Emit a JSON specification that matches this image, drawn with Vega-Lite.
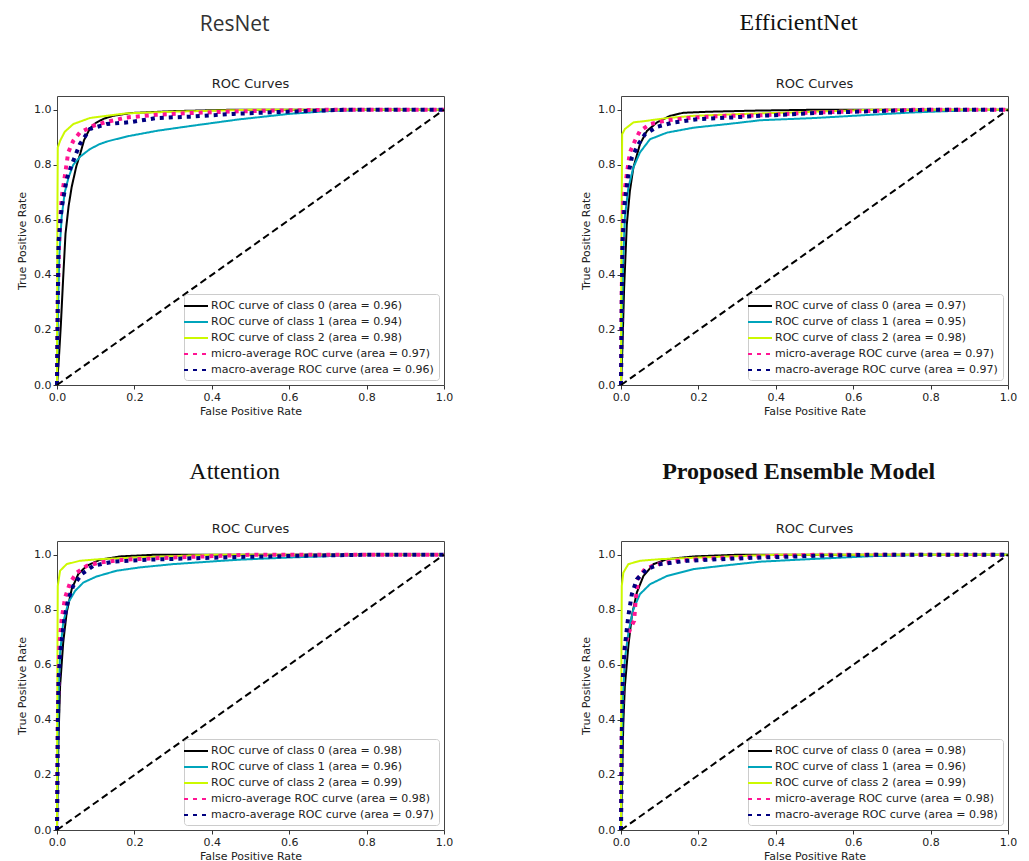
{
  "$schema": "https://vega.github.io/schema/vega-lite/v6.json",
  "padding": {"left": 16, "top": 10, "right": 5, "bottom": 5},
  "background": "white",
  "datasets": {
    "roc": [
      {"p":"R","s":"c0","x":0,"y":0},{"p":"R","s":"c0","x":0.005,"y":0.1},{"p":"R","s":"c0","x":0.01,"y":0.22},{"p":"R","s":"c0","x":0.016,"y":0.39},{"p":"R","s":"c0","x":0.022,"y":0.55},{"p":"R","s":"c0","x":0.03,"y":0.65},{"p":"R","s":"c0","x":0.038,"y":0.72},{"p":"R","s":"c0","x":0.05,"y":0.795},{"p":"R","s":"c0","x":0.06,"y":0.84},{"p":"R","s":"c0","x":0.07,"y":0.89},{"p":"R","s":"c0","x":0.085,"y":0.932},{"p":"R","s":"c0","x":0.1,"y":0.952},{"p":"R","s":"c0","x":0.12,"y":0.967},{"p":"R","s":"c0","x":0.145,"y":0.978},{"p":"R","s":"c0","x":0.19,"y":0.988},{"p":"R","s":"c0","x":0.3,"y":0.995},{"p":"R","s":"c0","x":0.45,"y":1.0},{"p":"R","s":"c0","x":1,"y":1},
      {"p":"R","s":"c1","x":0,"y":0},{"p":"R","s":"c1","x":0.002,"y":0.2},{"p":"R","s":"c1","x":0.004,"y":0.35},{"p":"R","s":"c1","x":0.006,"y":0.47},{"p":"R","s":"c1","x":0.012,"y":0.61},{"p":"R","s":"c1","x":0.02,"y":0.7},{"p":"R","s":"c1","x":0.03,"y":0.755},{"p":"R","s":"c1","x":0.042,"y":0.8},{"p":"R","s":"c1","x":0.06,"y":0.83},{"p":"R","s":"c1","x":0.085,"y":0.857},{"p":"R","s":"c1","x":0.11,"y":0.875},{"p":"R","s":"c1","x":0.13,"y":0.885},{"p":"R","s":"c1","x":0.18,"y":0.903},{"p":"R","s":"c1","x":0.26,"y":0.924},{"p":"R","s":"c1","x":0.35,"y":0.942},{"p":"R","s":"c1","x":0.47,"y":0.965},{"p":"R","s":"c1","x":0.6,"y":0.985},{"p":"R","s":"c1","x":0.7,"y":0.995},{"p":"R","s":"c1","x":0.8,"y":1.0},{"p":"R","s":"c1","x":1,"y":1},
      {"p":"R","s":"c2","x":0,"y":0},{"p":"R","s":"c2","x":0.001,"y":0.6},{"p":"R","s":"c2","x":0.002,"y":0.863},{"p":"R","s":"c2","x":0.008,"y":0.887},{"p":"R","s":"c2","x":0.02,"y":0.92},{"p":"R","s":"c2","x":0.042,"y":0.948},{"p":"R","s":"c2","x":0.085,"y":0.97},{"p":"R","s":"c2","x":0.128,"y":0.978},{"p":"R","s":"c2","x":0.18,"y":0.987},{"p":"R","s":"c2","x":0.3,"y":0.993},{"p":"R","s":"c2","x":0.5,"y":1.0},{"p":"R","s":"c2","x":1,"y":1},
      {"p":"R","s":"mi","x":0,"y":0},{"p":"R","s":"mi","x":0.002,"y":0.3},{"p":"R","s":"mi","x":0.005,"y":0.5},{"p":"R","s":"mi","x":0.008,"y":0.6},{"p":"R","s":"mi","x":0.012,"y":0.68},{"p":"R","s":"mi","x":0.021,"y":0.766},{"p":"R","s":"mi","x":0.029,"y":0.845},{"p":"R","s":"mi","x":0.042,"y":0.887},{"p":"R","s":"mi","x":0.059,"y":0.917},{"p":"R","s":"mi","x":0.094,"y":0.942},{"p":"R","s":"mi","x":0.128,"y":0.956},{"p":"R","s":"mi","x":0.18,"y":0.972},{"p":"R","s":"mi","x":0.258,"y":0.982},{"p":"R","s":"mi","x":0.344,"y":0.988},{"p":"R","s":"mi","x":0.455,"y":0.994},{"p":"R","s":"mi","x":0.6,"y":0.998},{"p":"R","s":"mi","x":0.7,"y":1.0},{"p":"R","s":"mi","x":1,"y":1},
      {"p":"R","s":"ma","x":0,"y":0},{"p":"R","s":"ma","x":0.002,"y":0.3},{"p":"R","s":"ma","x":0.004,"y":0.523},{"p":"R","s":"ma","x":0.012,"y":0.644},{"p":"R","s":"ma","x":0.025,"y":0.748},{"p":"R","s":"ma","x":0.038,"y":0.8},{"p":"R","s":"ma","x":0.059,"y":0.875},{"p":"R","s":"ma","x":0.085,"y":0.93},{"p":"R","s":"ma","x":0.128,"y":0.948},{"p":"R","s":"ma","x":0.189,"y":0.955},{"p":"R","s":"ma","x":0.258,"y":0.97},{"p":"R","s":"ma","x":0.344,"y":0.975},{"p":"R","s":"ma","x":0.455,"y":0.985},{"p":"R","s":"ma","x":0.54,"y":0.99},{"p":"R","s":"ma","x":0.65,"y":0.996},{"p":"R","s":"ma","x":0.75,"y":1.0},{"p":"R","s":"ma","x":1,"y":1},

      {"p":"E","s":"c0","x":0,"y":0},{"p":"E","s":"c0","x":0.004,"y":0.15},{"p":"E","s":"c0","x":0.008,"y":0.35},{"p":"E","s":"c0","x":0.015,"y":0.583},{"p":"E","s":"c0","x":0.023,"y":0.705},{"p":"E","s":"c0","x":0.032,"y":0.79},{"p":"E","s":"c0","x":0.049,"y":0.875},{"p":"E","s":"c0","x":0.067,"y":0.923},{"p":"E","s":"c0","x":0.093,"y":0.954},{"p":"E","s":"c0","x":0.127,"y":0.978},{"p":"E","s":"c0","x":0.161,"y":0.989},{"p":"E","s":"c0","x":0.23,"y":0.993},{"p":"E","s":"c0","x":0.35,"y":0.997},{"p":"E","s":"c0","x":0.5,"y":1.0},{"p":"E","s":"c0","x":1,"y":1},
      {"p":"E","s":"c1","x":0,"y":0},{"p":"E","s":"c1","x":0.002,"y":0.2},{"p":"E","s":"c1","x":0.004,"y":0.35},{"p":"E","s":"c1","x":0.006,"y":0.46},{"p":"E","s":"c1","x":0.01,"y":0.61},{"p":"E","s":"c1","x":0.019,"y":0.717},{"p":"E","s":"c1","x":0.032,"y":0.79},{"p":"E","s":"c1","x":0.049,"y":0.845},{"p":"E","s":"c1","x":0.075,"y":0.893},{"p":"E","s":"c1","x":0.119,"y":0.917},{"p":"E","s":"c1","x":0.188,"y":0.935},{"p":"E","s":"c1","x":0.275,"y":0.948},{"p":"E","s":"c1","x":0.361,"y":0.962},{"p":"E","s":"c1","x":0.5,"y":0.97},{"p":"E","s":"c1","x":0.6,"y":0.978},{"p":"E","s":"c1","x":0.75,"y":0.99},{"p":"E","s":"c1","x":0.9,"y":0.998},{"p":"E","s":"c1","x":1,"y":1},
      {"p":"E","s":"c2","x":0,"y":0},{"p":"E","s":"c2","x":0.001,"y":0.5},{"p":"E","s":"c2","x":0.003,"y":0.911},{"p":"E","s":"c2","x":0.01,"y":0.93},{"p":"E","s":"c2","x":0.032,"y":0.954},{"p":"E","s":"c2","x":0.067,"y":0.96},{"p":"E","s":"c2","x":0.12,"y":0.97},{"p":"E","s":"c2","x":0.188,"y":0.978},{"p":"E","s":"c2","x":0.3,"y":0.984},{"p":"E","s":"c2","x":0.5,"y":0.993},{"p":"E","s":"c2","x":0.65,"y":1.0},{"p":"E","s":"c2","x":1,"y":1},
      {"p":"E","s":"mi","x":0,"y":0},{"p":"E","s":"mi","x":0.002,"y":0.35},{"p":"E","s":"mi","x":0.006,"y":0.668},{"p":"E","s":"mi","x":0.015,"y":0.766},{"p":"E","s":"mi","x":0.023,"y":0.845},{"p":"E","s":"mi","x":0.036,"y":0.887},{"p":"E","s":"mi","x":0.049,"y":0.923},{"p":"E","s":"mi","x":0.075,"y":0.948},{"p":"E","s":"mi","x":0.119,"y":0.962},{"p":"E","s":"mi","x":0.188,"y":0.972},{"p":"E","s":"mi","x":0.275,"y":0.978},{"p":"E","s":"mi","x":0.36,"y":0.98},{"p":"E","s":"mi","x":0.5,"y":0.99},{"p":"E","s":"mi","x":0.75,"y":1.0},{"p":"E","s":"mi","x":1,"y":1},
      {"p":"E","s":"ma","x":0,"y":0},{"p":"E","s":"ma","x":0.002,"y":0.3},{"p":"E","s":"ma","x":0.004,"y":0.523},{"p":"E","s":"ma","x":0.01,"y":0.668},{"p":"E","s":"ma","x":0.019,"y":0.766},{"p":"E","s":"ma","x":0.028,"y":0.826},{"p":"E","s":"ma","x":0.045,"y":0.875},{"p":"E","s":"ma","x":0.062,"y":0.911},{"p":"E","s":"ma","x":0.093,"y":0.938},{"p":"E","s":"ma","x":0.136,"y":0.954},{"p":"E","s":"ma","x":0.2,"y":0.966},{"p":"E","s":"ma","x":0.287,"y":0.972},{"p":"E","s":"ma","x":0.361,"y":0.978},{"p":"E","s":"ma","x":0.5,"y":0.988},{"p":"E","s":"ma","x":0.65,"y":0.995},{"p":"E","s":"ma","x":0.8,"y":1.0},{"p":"E","s":"ma","x":1,"y":1},

      {"p":"A","s":"c0","x":0,"y":0},{"p":"A","s":"c0","x":0.002,"y":0.2},{"p":"A","s":"c0","x":0.004,"y":0.34},{"p":"A","s":"c0","x":0.008,"y":0.523},{"p":"A","s":"c0","x":0.016,"y":0.68},{"p":"A","s":"c0","x":0.025,"y":0.79},{"p":"A","s":"c0","x":0.038,"y":0.875},{"p":"A","s":"c0","x":0.055,"y":0.93},{"p":"A","s":"c0","x":0.077,"y":0.96},{"p":"A","s":"c0","x":0.111,"y":0.982},{"p":"A","s":"c0","x":0.163,"y":0.994},{"p":"A","s":"c0","x":0.25,"y":1.0},{"p":"A","s":"c0","x":1,"y":1},
      {"p":"A","s":"c1","x":0,"y":0},{"p":"A","s":"c1","x":0.002,"y":0.3},{"p":"A","s":"c1","x":0.004,"y":0.486},{"p":"A","s":"c1","x":0.008,"y":0.644},{"p":"A","s":"c1","x":0.016,"y":0.753},{"p":"A","s":"c1","x":0.029,"y":0.826},{"p":"A","s":"c1","x":0.047,"y":0.869},{"p":"A","s":"c1","x":0.068,"y":0.899},{"p":"A","s":"c1","x":0.102,"y":0.921},{"p":"A","s":"c1","x":0.154,"y":0.942},{"p":"A","s":"c1","x":0.214,"y":0.954},{"p":"A","s":"c1","x":0.3,"y":0.966},{"p":"A","s":"c1","x":0.404,"y":0.976},{"p":"A","s":"c1","x":0.47,"y":0.982},{"p":"A","s":"c1","x":0.6,"y":0.99},{"p":"A","s":"c1","x":0.8,"y":1.0},{"p":"A","s":"c1","x":1,"y":1},
      {"p":"A","s":"c2","x":0,"y":0},{"p":"A","s":"c2","x":0.001,"y":0.6},{"p":"A","s":"c2","x":0.002,"y":0.887},{"p":"A","s":"c2","x":0.008,"y":0.942},{"p":"A","s":"c2","x":0.025,"y":0.966},{"p":"A","s":"c2","x":0.059,"y":0.978},{"p":"A","s":"c2","x":0.111,"y":0.984},{"p":"A","s":"c2","x":0.2,"y":0.99},{"p":"A","s":"c2","x":0.4,"y":1.0},{"p":"A","s":"c2","x":1,"y":1},
      {"p":"A","s":"mi","x":0,"y":0},{"p":"A","s":"mi","x":0.002,"y":0.4},{"p":"A","s":"mi","x":0.006,"y":0.668},{"p":"A","s":"mi","x":0.012,"y":0.766},{"p":"A","s":"mi","x":0.021,"y":0.845},{"p":"A","s":"mi","x":0.034,"y":0.899},{"p":"A","s":"mi","x":0.051,"y":0.935},{"p":"A","s":"mi","x":0.077,"y":0.96},{"p":"A","s":"mi","x":0.111,"y":0.972},{"p":"A","s":"mi","x":0.171,"y":0.982},{"p":"A","s":"mi","x":0.3,"y":0.99},{"p":"A","s":"mi","x":0.5,"y":1.0},{"p":"A","s":"mi","x":1,"y":1},
      {"p":"A","s":"ma","x":0,"y":0},{"p":"A","s":"ma","x":0.002,"y":0.35},{"p":"A","s":"ma","x":0.004,"y":0.547},{"p":"A","s":"ma","x":0.01,"y":0.668},{"p":"A","s":"ma","x":0.019,"y":0.766},{"p":"A","s":"ma","x":0.029,"y":0.838},{"p":"A","s":"ma","x":0.042,"y":0.887},{"p":"A","s":"ma","x":0.064,"y":0.93},{"p":"A","s":"ma","x":0.094,"y":0.96},{"p":"A","s":"ma","x":0.146,"y":0.975},{"p":"A","s":"ma","x":0.233,"y":0.982},{"p":"A","s":"ma","x":0.344,"y":0.987},{"p":"A","s":"ma","x":0.47,"y":0.992},{"p":"A","s":"ma","x":0.65,"y":0.997},{"p":"A","s":"ma","x":0.8,"y":1.0},{"p":"A","s":"ma","x":1,"y":1},

      {"p":"P","s":"c0","x":0,"y":0},{"p":"P","s":"c0","x":0.003,"y":0.2},{"p":"P","s":"c0","x":0.006,"y":0.389},{"p":"P","s":"c0","x":0.01,"y":0.523},{"p":"P","s":"c0","x":0.019,"y":0.668},{"p":"P","s":"c0","x":0.028,"y":0.778},{"p":"P","s":"c0","x":0.041,"y":0.863},{"p":"P","s":"c0","x":0.058,"y":0.923},{"p":"P","s":"c0","x":0.084,"y":0.966},{"p":"P","s":"c0","x":0.119,"y":0.984},{"p":"P","s":"c0","x":0.188,"y":0.994},{"p":"P","s":"c0","x":0.3,"y":1.0},{"p":"P","s":"c0","x":1,"y":1},
      {"p":"P","s":"c1","x":0,"y":0},{"p":"P","s":"c1","x":0.002,"y":0.3},{"p":"P","s":"c1","x":0.005,"y":0.486},{"p":"P","s":"c1","x":0.01,"y":0.62},{"p":"P","s":"c1","x":0.019,"y":0.717},{"p":"P","s":"c1","x":0.032,"y":0.802},{"p":"P","s":"c1","x":0.049,"y":0.857},{"p":"P","s":"c1","x":0.075,"y":0.893},{"p":"P","s":"c1","x":0.119,"y":0.923},{"p":"P","s":"c1","x":0.188,"y":0.948},{"p":"P","s":"c1","x":0.275,"y":0.962},{"p":"P","s":"c1","x":0.361,"y":0.975},{"p":"P","s":"c1","x":0.5,"y":0.985},{"p":"P","s":"c1","x":0.65,"y":0.995},{"p":"P","s":"c1","x":0.8,"y":1.0},{"p":"P","s":"c1","x":1,"y":1},
      {"p":"P","s":"c2","x":0,"y":0},{"p":"P","s":"c2","x":0.001,"y":0.6},{"p":"P","s":"c2","x":0.002,"y":0.887},{"p":"P","s":"c2","x":0.006,"y":0.935},{"p":"P","s":"c2","x":0.019,"y":0.966},{"p":"P","s":"c2","x":0.049,"y":0.978},{"p":"P","s":"c2","x":0.101,"y":0.984},{"p":"P","s":"c2","x":0.188,"y":0.989},{"p":"P","s":"c2","x":0.3,"y":0.995},{"p":"P","s":"c2","x":0.4,"y":1.0},{"p":"P","s":"c2","x":1,"y":1},
      {"p":"P","s":"mi","x":0,"y":0},{"p":"P","s":"mi","x":0.002,"y":0.35},{"p":"P","s":"mi","x":0.005,"y":0.559},{"p":"P","s":"mi","x":0.01,"y":0.668},{"p":"P","s":"mi","x":0.023,"y":0.729},{"p":"P","s":"mi","x":0.034,"y":0.76},{"p":"P","s":"mi","x":0.038,"y":0.838},{"p":"P","s":"mi","x":0.045,"y":0.917},{"p":"P","s":"mi","x":0.062,"y":0.948},{"p":"P","s":"mi","x":0.093,"y":0.966},{"p":"P","s":"mi","x":0.145,"y":0.978},{"p":"P","s":"mi","x":0.231,"y":0.987},{"p":"P","s":"mi","x":0.36,"y":0.994},{"p":"P","s":"mi","x":0.5,"y":1.0},{"p":"P","s":"mi","x":1,"y":1},
      {"p":"P","s":"ma","x":0,"y":0},{"p":"P","s":"ma","x":0.002,"y":0.35},{"p":"P","s":"ma","x":0.005,"y":0.559},{"p":"P","s":"ma","x":0.01,"y":0.668},{"p":"P","s":"ma","x":0.019,"y":0.778},{"p":"P","s":"ma","x":0.028,"y":0.857},{"p":"P","s":"ma","x":0.041,"y":0.911},{"p":"P","s":"ma","x":0.067,"y":0.948},{"p":"P","s":"ma","x":0.101,"y":0.966},{"p":"P","s":"ma","x":0.171,"y":0.978},{"p":"P","s":"ma","x":0.257,"y":0.984},{"p":"P","s":"ma","x":0.36,"y":0.99},{"p":"P","s":"ma","x":0.5,"y":0.996},{"p":"P","s":"ma","x":0.65,"y":1.0},{"p":"P","s":"ma","x":1,"y":1}
    ],
    "diag": [{"x":0,"y":0},{"x":1,"y":1}]
  },
  "resolve": {"scale": {"color": "independent", "strokeDash": "independent"}},
  "spacing": 42,
  "vconcat": [
    {
      "spacing": 126,
      "resolve": {"scale": {"color": "independent", "strokeDash": "independent"}},
      "hconcat": [
        {
          "title": {"text": "ResNet", "font": "Open Sans, Noto Sans, sans-serif", "fontSize": 21, "fontWeight": "normal", "color": "#333", "anchor": "middle", "offset": 43},
          "resolve": {"scale": {"color": "independent", "strokeDash": "independent"}},
          "vconcat": [
            {
              "title": {"text": "ROC Curves", "frame": "group", "anchor": "middle", "font": "DejaVu Sans", "fontSize": 13, "fontWeight": "normal", "color": "#222", "offset": 5},
              "width": 387, "height": 289,
              "layer": [
                {
                  "data": {"name": "roc"},
                  "transform": [{"filter": "datum.p == 'R'"}],
                  "mark": {"type": "line", "strokeCap": "butt", "interpolate": "linear"},
                  "encoding": {
                    "x": {"field": "x", "type": "quantitative", "scale": {"domain": [0, 1], "nice": false, "zero": false}, "axis": {"title": "False Positive Rate", "values": [0, 0.2, 0.4, 0.6, 0.8, 1.0], "format": ".1f"}},
                    "y": {"field": "y", "type": "quantitative", "scale": {"domain": [0, 1.05], "nice": false, "zero": false}, "axis": {"title": "True Positive Rate", "values": [0, 0.2, 0.4, 0.6, 0.8, 1.0], "format": ".1f"}},
                    "color": {"field": "s", "type": "nominal", "scale": {"domain": ["c0", "c1", "c2", "mi", "ma"], "range": ["#000000", "#00a4bb", "#ccf900", "#ff1493", "#000080"]}, "legend": {"title": null, "labelExpr": "datum.label == 'c0' ? 'ROC curve of class 0 (area = 0.96)' : datum.label == 'c1' ? 'ROC curve of class 1 (area = 0.94)' : datum.label == 'c2' ? 'ROC curve of class 2 (area = 0.98)' : datum.label == 'mi' ? 'micro-average ROC curve (area = 0.97)' : 'macro-average ROC curve (area = 0.96)'"}},
                    "strokeDash": {"field": "s", "type": "nominal", "scale": {"domain": ["c0", "c1", "c2", "mi", "ma"], "range": [[1, 0], [1, 0], [1, 0], [4, 5], [4, 5]]}, "legend": {"title": null, "labelExpr": "datum.label == 'c0' ? 'ROC curve of class 0 (area = 0.96)' : datum.label == 'c1' ? 'ROC curve of class 1 (area = 0.94)' : datum.label == 'c2' ? 'ROC curve of class 2 (area = 0.98)' : datum.label == 'mi' ? 'micro-average ROC curve (area = 0.97)' : 'macro-average ROC curve (area = 0.96)'"}},
                    "strokeWidth": {"condition": {"test": "datum.s == 'mi' || datum.s == 'ma'", "value": 4}, "value": 2}
                  }
                },
                {
                  "data": {"name": "diag"},
                  "mark": {"type": "line", "color": "#000000", "strokeWidth": 2, "strokeDash": [7, 4], "strokeCap": "butt"},
                  "encoding": {"x": {"field": "x", "type": "quantitative"}, "y": {"field": "y", "type": "quantitative"}}
                }
              ]
            }
          ]
        },
        {
          "title": {"text": "EfficientNet", "font": "Liberation Serif", "fontSize": 24, "fontWeight": "normal", "color": "#111", "anchor": "middle", "offset": 43},
          "resolve": {"scale": {"color": "independent", "strokeDash": "independent"}},
          "vconcat": [
            {
              "title": {"text": "ROC Curves", "frame": "group", "anchor": "middle", "font": "DejaVu Sans", "fontSize": 13, "fontWeight": "normal", "color": "#222", "offset": 5},
              "width": 387, "height": 289,
              "layer": [
                {
                  "data": {"name": "roc"},
                  "transform": [{"filter": "datum.p == 'E'"}],
                  "mark": {"type": "line", "strokeCap": "butt", "interpolate": "linear"},
                  "encoding": {
                    "x": {"field": "x", "type": "quantitative", "scale": {"domain": [0, 1], "nice": false, "zero": false}, "axis": {"title": "False Positive Rate", "values": [0, 0.2, 0.4, 0.6, 0.8, 1.0], "format": ".1f"}},
                    "y": {"field": "y", "type": "quantitative", "scale": {"domain": [0, 1.05], "nice": false, "zero": false}, "axis": {"title": "True Positive Rate", "values": [0, 0.2, 0.4, 0.6, 0.8, 1.0], "format": ".1f"}},
                    "color": {"field": "s", "type": "nominal", "scale": {"domain": ["c0", "c1", "c2", "mi", "ma"], "range": ["#000000", "#00a4bb", "#ccf900", "#ff1493", "#000080"]}, "legend": {"title": null, "labelExpr": "datum.label == 'c0' ? 'ROC curve of class 0 (area = 0.97)' : datum.label == 'c1' ? 'ROC curve of class 1 (area = 0.95)' : datum.label == 'c2' ? 'ROC curve of class 2 (area = 0.98)' : datum.label == 'mi' ? 'micro-average ROC curve (area = 0.97)' : 'macro-average ROC curve (area = 0.97)'"}},
                    "strokeDash": {"field": "s", "type": "nominal", "scale": {"domain": ["c0", "c1", "c2", "mi", "ma"], "range": [[1, 0], [1, 0], [1, 0], [4, 5], [4, 5]]}, "legend": {"title": null, "labelExpr": "datum.label == 'c0' ? 'ROC curve of class 0 (area = 0.97)' : datum.label == 'c1' ? 'ROC curve of class 1 (area = 0.95)' : datum.label == 'c2' ? 'ROC curve of class 2 (area = 0.98)' : datum.label == 'mi' ? 'micro-average ROC curve (area = 0.97)' : 'macro-average ROC curve (area = 0.97)'"}},
                    "strokeWidth": {"condition": {"test": "datum.s == 'mi' || datum.s == 'ma'", "value": 4}, "value": 2}
                  }
                },
                {
                  "data": {"name": "diag"},
                  "mark": {"type": "line", "color": "#000000", "strokeWidth": 2, "strokeDash": [7, 4], "strokeCap": "butt"},
                  "encoding": {"x": {"field": "x", "type": "quantitative"}, "y": {"field": "y", "type": "quantitative"}}
                }
              ]
            }
          ]
        }
      ]
    },
    {
      "spacing": 126,
      "resolve": {"scale": {"color": "independent", "strokeDash": "independent"}},
      "hconcat": [
        {
          "title": {"text": "Attention", "font": "Liberation Serif", "fontSize": 24, "fontWeight": "normal", "color": "#111", "anchor": "middle", "offset": 39},
          "resolve": {"scale": {"color": "independent", "strokeDash": "independent"}},
          "vconcat": [
            {
              "title": {"text": "ROC Curves", "frame": "group", "anchor": "middle", "font": "DejaVu Sans", "fontSize": 13, "fontWeight": "normal", "color": "#222", "offset": 5},
              "width": 387, "height": 289,
              "layer": [
                {
                  "data": {"name": "roc"},
                  "transform": [{"filter": "datum.p == 'A'"}],
                  "mark": {"type": "line", "strokeCap": "butt", "interpolate": "linear"},
                  "encoding": {
                    "x": {"field": "x", "type": "quantitative", "scale": {"domain": [0, 1], "nice": false, "zero": false}, "axis": {"title": "False Positive Rate", "values": [0, 0.2, 0.4, 0.6, 0.8, 1.0], "format": ".1f"}},
                    "y": {"field": "y", "type": "quantitative", "scale": {"domain": [0, 1.05], "nice": false, "zero": false}, "axis": {"title": "True Positive Rate", "values": [0, 0.2, 0.4, 0.6, 0.8, 1.0], "format": ".1f"}},
                    "color": {"field": "s", "type": "nominal", "scale": {"domain": ["c0", "c1", "c2", "mi", "ma"], "range": ["#000000", "#00a4bb", "#ccf900", "#ff1493", "#000080"]}, "legend": {"title": null, "labelExpr": "datum.label == 'c0' ? 'ROC curve of class 0 (area = 0.98)' : datum.label == 'c1' ? 'ROC curve of class 1 (area = 0.96)' : datum.label == 'c2' ? 'ROC curve of class 2 (area = 0.99)' : datum.label == 'mi' ? 'micro-average ROC curve (area = 0.98)' : 'macro-average ROC curve (area = 0.97)'"}},
                    "strokeDash": {"field": "s", "type": "nominal", "scale": {"domain": ["c0", "c1", "c2", "mi", "ma"], "range": [[1, 0], [1, 0], [1, 0], [4, 5], [4, 5]]}, "legend": {"title": null, "labelExpr": "datum.label == 'c0' ? 'ROC curve of class 0 (area = 0.98)' : datum.label == 'c1' ? 'ROC curve of class 1 (area = 0.96)' : datum.label == 'c2' ? 'ROC curve of class 2 (area = 0.99)' : datum.label == 'mi' ? 'micro-average ROC curve (area = 0.98)' : 'macro-average ROC curve (area = 0.97)'"}},
                    "strokeWidth": {"condition": {"test": "datum.s == 'mi' || datum.s == 'ma'", "value": 4}, "value": 2}
                  }
                },
                {
                  "data": {"name": "diag"},
                  "mark": {"type": "line", "color": "#000000", "strokeWidth": 2, "strokeDash": [7, 4], "strokeCap": "butt"},
                  "encoding": {"x": {"field": "x", "type": "quantitative"}, "y": {"field": "y", "type": "quantitative"}}
                }
              ]
            }
          ]
        },
        {
          "title": {"text": "Proposed Ensemble Model", "font": "Liberation Serif", "fontSize": 24, "fontWeight": "bold", "color": "#111", "anchor": "middle", "offset": 39},
          "resolve": {"scale": {"color": "independent", "strokeDash": "independent"}},
          "vconcat": [
            {
              "title": {"text": "ROC Curves", "frame": "group", "anchor": "middle", "font": "DejaVu Sans", "fontSize": 13, "fontWeight": "normal", "color": "#222", "offset": 5},
              "width": 387, "height": 289,
              "layer": [
                {
                  "data": {"name": "roc"},
                  "transform": [{"filter": "datum.p == 'P'"}],
                  "mark": {"type": "line", "strokeCap": "butt", "interpolate": "linear"},
                  "encoding": {
                    "x": {"field": "x", "type": "quantitative", "scale": {"domain": [0, 1], "nice": false, "zero": false}, "axis": {"title": "False Positive Rate", "values": [0, 0.2, 0.4, 0.6, 0.8, 1.0], "format": ".1f"}},
                    "y": {"field": "y", "type": "quantitative", "scale": {"domain": [0, 1.05], "nice": false, "zero": false}, "axis": {"title": "True Positive Rate", "values": [0, 0.2, 0.4, 0.6, 0.8, 1.0], "format": ".1f"}},
                    "color": {"field": "s", "type": "nominal", "scale": {"domain": ["c0", "c1", "c2", "mi", "ma"], "range": ["#000000", "#00a4bb", "#ccf900", "#ff1493", "#000080"]}, "legend": {"title": null, "labelExpr": "datum.label == 'c0' ? 'ROC curve of class 0 (area = 0.98)' : datum.label == 'c1' ? 'ROC curve of class 1 (area = 0.96)' : datum.label == 'c2' ? 'ROC curve of class 2 (area = 0.99)' : datum.label == 'mi' ? 'micro-average ROC curve (area = 0.98)' : 'macro-average ROC curve (area = 0.98)'"}},
                    "strokeDash": {"field": "s", "type": "nominal", "scale": {"domain": ["c0", "c1", "c2", "mi", "ma"], "range": [[1, 0], [1, 0], [1, 0], [4, 5], [4, 5]]}, "legend": {"title": null, "labelExpr": "datum.label == 'c0' ? 'ROC curve of class 0 (area = 0.98)' : datum.label == 'c1' ? 'ROC curve of class 1 (area = 0.96)' : datum.label == 'c2' ? 'ROC curve of class 2 (area = 0.99)' : datum.label == 'mi' ? 'micro-average ROC curve (area = 0.98)' : 'macro-average ROC curve (area = 0.98)'"}},
                    "strokeWidth": {"condition": {"test": "datum.s == 'mi' || datum.s == 'ma'", "value": 4}, "value": 2}
                  }
                },
                {
                  "data": {"name": "diag"},
                  "mark": {"type": "line", "color": "#000000", "strokeWidth": 2, "strokeDash": [7, 4], "strokeCap": "butt"},
                  "encoding": {"x": {"field": "x", "type": "quantitative"}, "y": {"field": "y", "type": "quantitative"}}
                }
              ]
            }
          ]
        }
      ]
    }
  ],
  "config": {
    "font": "DejaVu Sans",
    "view": {"stroke": "#444444", "strokeWidth": 1},
    "axis": {"grid": false, "domain": false, "labelFont": "DejaVu Sans", "labelFontSize": 11, "labelColor": "#222222", "tickColor": "#333333", "tickSize": 4, "labelPadding": 2, "labelFlush": false, "titleFont": "DejaVu Sans", "titleFontSize": 11, "titleFontWeight": "normal", "titleColor": "#222222", "titlePadding": 6},
    "axisX": {"titlePadding": 3},
    "legend": {"orient": "bottom-right", "offset": 5, "padding": 5, "strokeColor": "#cccccc", "fillColor": "#ffffff", "cornerRadius": 3, "labelFont": "DejaVu Sans", "labelFontSize": 11, "labelColor": "#222222", "symbolType": "M-2,0H2", "symbolSize": 144, "rowPadding": 4, "labelOffset": 8, "labelLimit": 400, "symbolStrokeWidth": 2}
  }
}
